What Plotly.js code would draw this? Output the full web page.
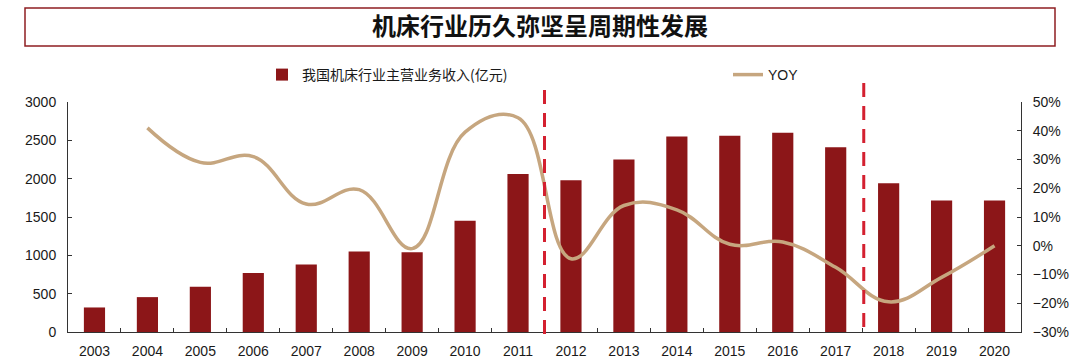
<!DOCTYPE html>
<html><head><meta charset="utf-8">
<script src="https://cdn.plot.ly/plotly-3.0.1.min.js"></script>
<style>html,body{margin:0;padding:0;background:#fff}#chart{width:1080px;height:358px}</style>
</head><body><div id="chart"></div>
<script>
const years = ['2003','2004','2005','2006','2007','2008','2009','2010','2011','2012','2013','2014','2015','2016','2017','2018','2019','2020'];
const revenue = [320,455,590,770,880,1050,1040,1450,2060,1980,2250,2550,2560,2600,2410,1940,1715,1715];
const yoy = [null,41,29,31,14.5,19.5,-1,39.5,44.5,-4.5,14,12.5,0.5,1.3,-7.5,-19.5,-11,0];
const revenueName = '我国机床行业主营业务收入(亿元)';
const yoyName = 'YOY';
const titleText = '机床行业历久弥坚呈周期性发展';
const dividerYears = ['2011','2017'];

const W = 1080, H = 358;
const M = {l:68, r:59, t:102, b:26};
const PW = W - M.l - M.r, PH = H - M.t - M.b;
const px2x = p => (p - M.l) / PW;
const py2y = p => (H - M.b - p) / PH;

const latin = 'Liberation Sans, Arial, sans-serif';
const cjk = 'Noto Sans CJK SC, sans-serif';

const traces = [
  {type:'bar', x: years, y: revenue, name: revenueName, marker:{color:'#8C1618'},
   legend:'legend', yaxis:'y', hoverinfo:'x+y'},
  {type:'scatter', mode:'lines', x: years, y: yoy, name: yoyName, yaxis:'y2',
   line:{color:'#C6A67F', width:3.5, shape:'spline', smoothing:1.15}, connectgaps:false,
   legend:'legend2'}
];

const shapes = [
  {type:'rect', xref:'paper', yref:'paper', x0:px2x(25), x1:px2x(1055), y0:py2y(46), y1:py2y(8),
   line:{color:'#8E1E22', width:1.5}, fillcolor:'rgba(0,0,0,0)', layer:'below'},
  {type:'line', xref:'x', yref:'paper', x0: years.indexOf(dividerYears[0]) + 0.5, x1: years.indexOf(dividerYears[0]) + 0.5,
   y0: py2y(334), y1: py2y(88), line:{color:'#D42030', width:3, dash:'14px,9px'}},
  {type:'line', xref:'x', yref:'paper', x0: years.indexOf(dividerYears[1]) + 0.53, x1: years.indexOf(dividerYears[1]) + 0.53,
   y0: py2y(327), y1: py2y(82), line:{color:'#D42030', width:3, dash:'14px,9px'}}
];

const axisCommon = {showgrid:false, zeroline:false, showline:true, linecolor:'#333', linewidth:1,
  ticks:'inside', ticklen:4, tickcolor:'#333', tickfont:{family:latin, size:14, color:'#1a1a1a'}};

const layout = {
  width: W, height: H,
  margin: M,
  paper_bgcolor:'#fff', plot_bgcolor:'#fff',
  title: {text: '<b>' + titleText + '</b>', x:0.5, xref:'container', xanchor:'center',
          y: 1 - 27/H, yref:'container', yanchor:'middle',
          font:{family:cjk, size:24, color:'#111'}},
  bargap: 0.6,
  xaxis: Object.assign({}, axisCommon, {type:'category', tickson:'boundaries', ticklabelstandoff:6}),
  yaxis: Object.assign({}, axisCommon, {range:[0,3000], dtick:500, ticklabelstandoff:8}),
  yaxis2: Object.assign({}, axisCommon, {overlaying:'y', side:'right', range:[-30,50], dtick:10,
          ticksuffix:'%', ticklabelstandoff:8}),
  showlegend: true,
  legend: {x: px2x(262), xanchor:'left', y: py2y(75), yanchor:'middle', orientation:'h',
           bgcolor:'rgba(0,0,0,0)', font:{family:cjk, size:14, color:'#1a1a1a'}},
  legend2: {x: px2x(728), xanchor:'left', y: py2y(75), yanchor:'middle', orientation:'h',
           bgcolor:'rgba(0,0,0,0)', font:{family:latin, size:14, color:'#1a1a1a'}},
  shapes: shapes
};

Plotly.newPlot('chart', traces, layout, {displayModeBar:false, staticPlot:true});
</script>
</body></html>
